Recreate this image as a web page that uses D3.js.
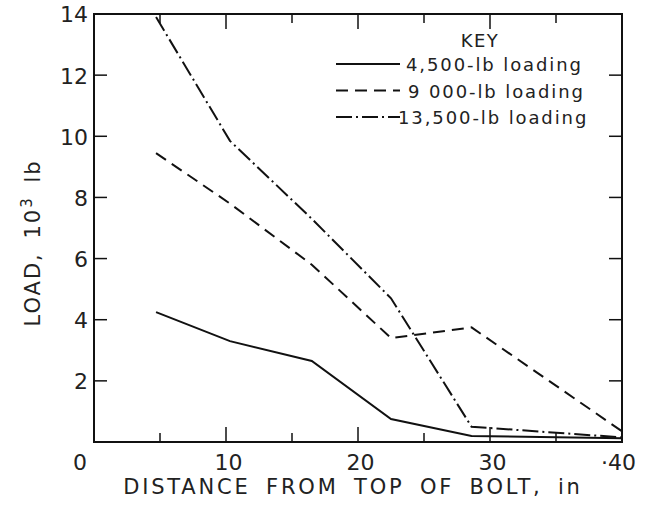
<!DOCTYPE html>
<html>
<head>
<meta charset="utf-8">
<script src="https://cdn.jsdelivr.net/npm/d3@7"></script>
<style>
  body { margin: 0; background: #fff; }
  text { font-family: "DejaVu Sans", sans-serif; fill: #222; }
</style>
</head>
<body>
<div id="chart"></div>
<script>
// data (distance in inches, load in 10^3 lb)
var distance = [4.7, 10.3, 16.5, 22.5, 28.6, 40];
var load4500 = [4.25, 3.3, 2.65, 0.75, 0.2, 0.12];
var load9000 = [9.45, 7.8, 5.8, 3.4, 3.75, 0.35];
var load13500 = [13.9, 9.85, 7.3, 4.7, 0.5, 0.15];

var seriesNames = ["4,500-lb loading", "9 000-lb loading", "13,500-lb loading"];
var seriesDash = ["none", "12,7", "16,4,2,4"];

var xTicks = [10, 20, 30, 40];
var yTicks = [2, 4, 6, 8, 10, 12, 14];

var width = 645, height = 506;
var margin = {top: 14, right: 23, bottom: 64, left: 94};
var w = width - margin.left - margin.right,
    h = height - margin.top - margin.bottom;

var svg = d3.select("#chart")
  .append("svg")
    .attr("width", width)
    .attr("height", height);

var g = svg.append("g")
  .attr("transform", "translate(" + margin.left + "," + margin.top + ")");

var x = d3.scaleLinear().domain([0, 40]).range([0, w]);
var y = d3.scaleLinear().domain([0, 14]).range([h, 0]);

// frame
g.append("rect")
  .attr("width", w).attr("height", h)
  .attr("fill", "none").attr("stroke", "#111").attr("stroke-width", 2);

// inward ticks on all four sides
var minorX = d3.range(5, 40, 5);
function tickLen(v) { return v % 10 === 0 ? 15 : 9; }

g.append("g").selectAll("line").data(minorX).enter().append("line")
  .attr("x1", function(d) { return x(d); }).attr("x2", function(d) { return x(d); })
  .attr("y1", h).attr("y2", function(d) { return h - tickLen(d); })
  .attr("stroke", "#111").attr("stroke-width", 1.5);
g.append("g").selectAll("line").data(minorX).enter().append("line")
  .attr("x1", function(d) { return x(d); }).attr("x2", function(d) { return x(d); })
  .attr("y1", 0).attr("y2", function(d) { return tickLen(d); })
  .attr("stroke", "#111").attr("stroke-width", 1.5);

var yIn = yTicks.filter(function(d) { return d < 14; });
g.append("g").selectAll("line").data(yIn).enter().append("line")
  .attr("x1", 0).attr("x2", 13)
  .attr("y1", function(d) { return y(d); }).attr("y2", function(d) { return y(d); })
  .attr("stroke", "#111").attr("stroke-width", 1.5);
g.append("g").selectAll("line").data(yIn).enter().append("line")
  .attr("x1", w).attr("x2", w - 13)
  .attr("y1", function(d) { return y(d); }).attr("y2", function(d) { return y(d); })
  .attr("stroke", "#111").attr("stroke-width", 1.5);

// tick labels through d3 axes (no domain / tick lines, just the text)
var xAxis = g.append("g")
  .attr("transform", "translate(0," + h + ")")
  .call(d3.axisBottom(x).tickValues(xTicks).tickSize(0).tickPadding(12)
    .tickFormat(function(d) { return d === 40 ? "\u00b740" : d; }));
xAxis.select(".domain").remove();
xAxis.selectAll("text").style("font-size", "22px").attr("dx", function(d) { return d === 40 ? "-4" : "2"; });

var yAxis = g.append("g")
  .call(d3.axisLeft(y).tickValues(yTicks).tickSize(0).tickPadding(6));
yAxis.select(".domain").remove();
yAxis.selectAll("text").style("font-size", "22px").attr("dy", "0.36em");

// origin label
g.append("text")
  .attr("x", x(0) - 14).attr("y", h + 28)
  .attr("text-anchor", "middle")
  .style("font-size", "22px")
  .text("0");

// titles
svg.append("text")
  .attr("x", 353)
  .attr("y", 494)
  .attr("text-anchor", "middle")
  .style("font-size", "21px")
  .style("letter-spacing", "2.8px")
  .style("word-spacing", "6px")
  .text("DISTANCE FROM TOP OF BOLT, in");

svg.append("text")
  .attr("transform", "translate(40,243) rotate(-90)")
  .attr("text-anchor", "middle")
  .style("font-size", "21px")
  .style("letter-spacing", "2px")
  .style("word-spacing", "5px")
  .html("LOAD, 10<tspan dy='-8' style='font-size:15px'>3</tspan><tspan dy='8'> lb</tspan>");

// lines
var allSeries = [load4500, load9000, load13500];
var line = d3.line()
  .x(function(d, i) { return x(distance[i]); })
  .y(function(d) { return y(d); });

g.selectAll(".series").data(allSeries).enter().append("path")
  .attr("class", "series")
  .attr("fill", "none")
  .attr("stroke", "#111")
  .attr("stroke-width", 2)
  .attr("stroke-dasharray", function(d, i) { return seriesDash[i]; })
  .attr("d", line);

// key
var key = svg.append("g").attr("transform", "translate(336,0)");
key.append("text")
  .attr("x", 144).attr("y", 47)
  .attr("text-anchor", "middle")
  .style("font-size", "18px")
  .style("letter-spacing", "1.5px")
  .text("KEY");
var rows = key.selectAll(".row").data(seriesNames).enter().append("g")
  .attr("class", "row")
  .attr("transform", function(d, i) { return "translate(0," + (64 + i * 26.5) + ")"; });
rows.append("line")
  .attr("x1", 0).attr("x2", 64)
  .attr("stroke", "#111").attr("stroke-width", 2)
  .attr("stroke-dasharray", function(d, i) { return seriesDash[i]; });
rows.append("text")
  .attr("x", function(d, i) { return i === 2 ? 62 : (i === 1 ? 72 : 70); })
  .attr("y", 7)
  .style("font-size", "18px")
  .style("letter-spacing", "1.9px")
  .text(function(d) { return d; });
</script>
</body>
</html>
